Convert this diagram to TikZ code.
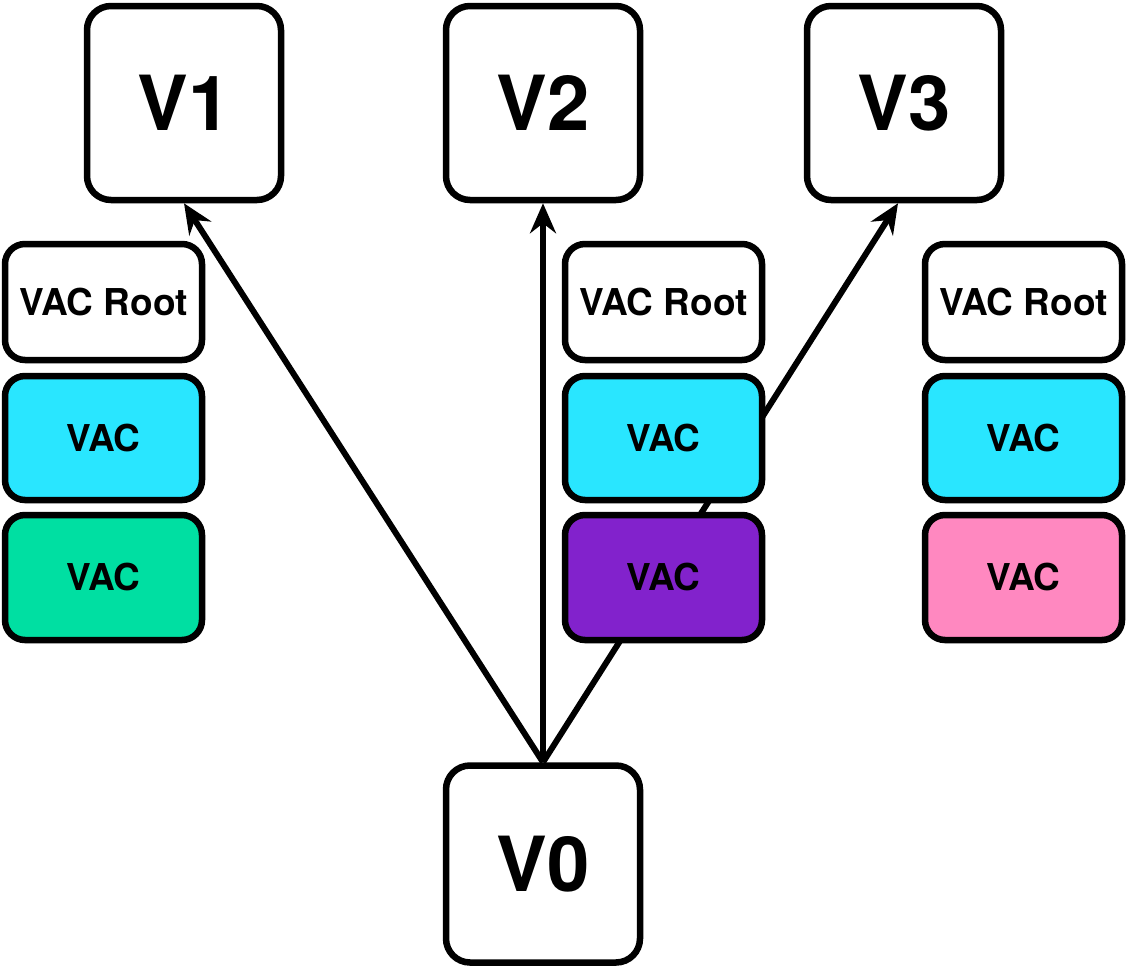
\documentclass[tikz,border=0pt]{standalone}
\usepackage{fontspec}
\setmainfont{TeX Gyre Heros}
\usetikzlibrary{arrows.meta}
\definecolor{vcyan}{RGB}{41,230,255}
\definecolor{vgreen}{RGB}{0,223,162}
\definecolor{vpurple}{RGB}{130,34,204}
\definecolor{vpink}{RGB}{255,136,192}
\begin{document}
\begin{tikzpicture}[x=1pt,y=-1pt,
  big/.style={draw=black,line width=6.5pt,rounded corners=24pt,fill=white,minimum width=194pt,minimum height=194pt,inner sep=0pt,font=\fontsize{76}{76}\selectfont\bfseries},
  small/.style={draw=black,line width=6.5pt,rounded corners=20pt,minimum width=197pt,inner sep=0pt,font=\fontsize{37}{37}\selectfont\bfseries},
  conn/.style={line width=6pt,-{Stealth[length=30pt,width=26pt,inset=10pt]}}]
\useasboundingbox (0,0) rectangle (1127,967);
\node[big] (v1) at (184,103) {V1};
\node[big] (v2) at (543,103) {V2};
\node[big] (v3) at (904,103) {V3};
\node[big,minimum height=197pt] (v0) at (543,864) {V0};
\draw[conn] (v0.north) -- (v1.south);
\draw[conn] (v0.north) -- (v2.south);
\draw[conn] (v0.north) -- ([xshift=-6pt]v3.south);
\foreach \cx/\n/\ca/\cb in {103.5/a/vcyan/vgreen, 663.5/b/vcyan/vpurple, 1023.5/c/vcyan/vpink}{
  \node[small,fill=white,minimum height=116pt] (root\n) at (\cx,302) {VAC Root};
  \node[small,fill=\ca,minimum height=124pt] (vaca\n) at (\cx,438) {VAC};
  \node[small,fill=\cb,minimum height=125pt] (vacb\n) at (\cx,577.5) {VAC};
}
\end{tikzpicture}
\end{document}
